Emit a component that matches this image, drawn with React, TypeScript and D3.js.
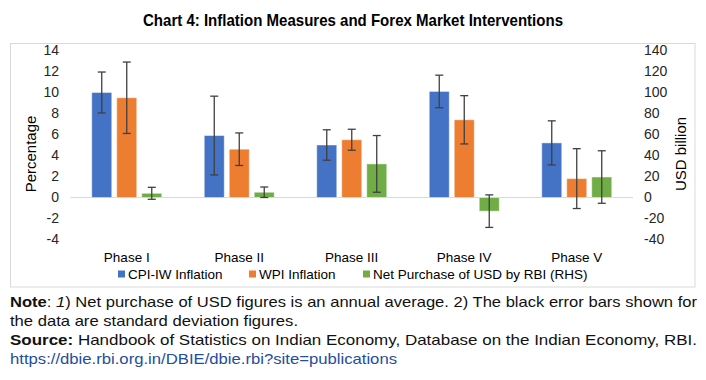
import React from "react";
import * as d3 from "d3";

const phases = ["Phase I", "Phase II", "Phase III", "Phase IV", "Phase V"];
const seriesNames = ["CPI-IW Inflation", "WPI Inflation", "Net Purchase of USD by RBI (RHS)"];
const cpiValues = [10.0, 5.9, 5.0, 10.1, 5.2];
const cpiSd = [1.95, 3.75, 1.45, 1.55, 2.1];
const wpiValues = [9.5, 4.6, 5.5, 7.4, 1.8];
const wpiSd = [3.4, 1.55, 1.0, 2.3, 2.85];
const usdValues = [4.0, 5.0, 32.0, -13.0, 19.5];
const usdSd = [5.7, 5.0, 27.0, 15.5, 25.0];
const leftTicks = [-4, -2, 0, 2, 4, 6, 8, 10, 12, 14];
const rightTicks = [-40, -20, 0, 20, 40, 60, 80, 100, 120, 140];
const colors = ["#4472C4", "#ED7D31", "#70AD47"];

const FONT = "'Liberation Sans', Arial, sans-serif";

export default function App() {
  const W = 706, H = 380;
  const plotL = 70.5, plotR = 633, plotT = 50.5, plotB = 239.5;
  const x0 = d3.scaleBand<string>().domain(phases).range([plotL, plotR]).paddingInner(0).paddingOuter(0);
  const groupW = 70;
  const x1 = d3.scaleBand<number>().domain([0, 1, 2]).range([0, groupW]).paddingInner(0.2).paddingOuter(0);
  const yL = d3.scaleLinear().domain([-4, 14]).range([plotB, plotT]);
  const yR = d3.scaleLinear().domain([-40, 140]).range([plotB, plotT]);

  const series = [
    { vals: cpiValues, sd: cpiSd, y: yL },
    { vals: wpiValues, sd: wpiSd, y: yL },
    { vals: usdValues, sd: usdSd, y: yR },
  ];

  const offset = (x0.bandwidth() - groupW) / 2;
  const capW = 8;

  return (
    <svg width={W} height={H} style={{ position: "absolute", left: 0, top: 0, background: "#fff" }} fontFamily={FONT}>
      <rect x={0} y={0} width={W} height={H} fill="#fff" />
      <text x={353} y={25.5} textAnchor="middle" fontWeight="bold" fontSize={16.5} fill="#000" textLength={420} lengthAdjust="spacingAndGlyphs">
        Chart 4: Inflation Measures and Forex Market Interventions
      </text>
      <rect x={10.5} y={43.5} width={684.5} height={243.5} fill="none" stroke="#d9d9d9" strokeWidth={1} />

      {/* baseline */}
      <line x1={plotL} x2={plotR} y1={yL(0)} y2={yL(0)} stroke="#d9d9d9" strokeWidth={1.2} />

      {/* left ticks */}
      {leftTicks.map((t) => (
        <text key={"l" + t} x={59} y={yL(t)} dy="0.35em" textAnchor="end" fontSize={14} fill="#262626">
          {t}
        </text>
      ))}
      {rightTicks.map((t) => (
        <text key={"r" + t} x={644} y={yR(t)} dy="0.35em" textAnchor="start" fontSize={14} fill="#262626">
          {t}
        </text>
      ))}
      <text transform={`translate(31,154) rotate(-90)`} textAnchor="middle" dy="0.35em" fontSize={15} fill="#000">
        Percentage
      </text>
      <text transform={`translate(681,154) rotate(-90)`} textAnchor="middle" dy="0.35em" fontSize={15} fill="#000">
        USD billion
      </text>

      {/* bars */}
      {series.map((s, si) =>
        phases.map((p, i) => {
          const v = s.vals[i];
          const bx = (x0(p) as number) + offset + (x1(si) as number);
          const y0 = s.y(0);
          const yv = s.y(v);
          return (
            <rect
              key={`b${si}-${i}`}
              x={bx}
              y={Math.min(y0, yv)}
              width={x1.bandwidth()}
              height={Math.abs(yv - y0)}
              fill={colors[si]}
              stroke="#ffffff"
              strokeOpacity={0.45}
              strokeWidth={1}
            />
          );
        })
      )}

      {/* error bars */}
      {series.map((s, si) =>
        phases.map((p, i) => {
          const v = s.vals[i];
          const cx = (x0(p) as number) + offset + (x1(si) as number) + x1.bandwidth() / 2;
          const yt = s.y(v + s.sd[i]);
          const yb = s.y(v - s.sd[i]);
          return (
            <g key={`e${si}-${i}`} stroke="#404040" strokeWidth={1.3}>
              <line x1={cx} x2={cx} y1={yt} y2={yb} />
              <line x1={cx - capW / 2} x2={cx + capW / 2} y1={yt} y2={yt} />
              <line x1={cx - capW / 2} x2={cx + capW / 2} y1={yb} y2={yb} />
            </g>
          );
        })
      )}

      {/* category labels */}
      {phases.map((p) => (
        <text key={"c" + p} x={(x0(p) as number) + x0.bandwidth() / 2} y={257} dy="0.35em" textAnchor="middle" fontSize={13.5} fill="#000">
          {p}
        </text>
      ))}

      {/* legend */}
      {seriesNames.map((n, i) => {
        const lx = [118, 249, 363][i];
        return (
          <g key={"lg" + i}>
            <rect x={lx} y={270.5} width={7} height={7} fill={colors[i]} />
            <text x={lx + 10} y={274} dy="0.35em" fontSize={13.5} fill="#000">
              {n}
            </text>
          </g>
        );
      })}

      {/* notes */}
      <text x={10} y={306.5} fontSize={14.5} fill="#111" textLength={687} lengthAdjust="spacingAndGlyphs">
        <tspan fontWeight="bold">Note</tspan>
        <tspan>: </tspan>
        <tspan fontStyle="italic">1</tspan>
        <tspan>) Net purchase of USD figures is an annual average. 2) The black error bars shown for</tspan>
      </text>
      <text x={10} y={325.5} fontSize={14.5} fill="#111" textLength={288} lengthAdjust="spacingAndGlyphs">
        the data are standard deviation figures.
      </text>
      <text x={10} y={344.5} fontSize={14.5} fill="#111" textLength={687} lengthAdjust="spacingAndGlyphs">
        <tspan fontWeight="bold">Source:</tspan>
        <tspan> Handbook of Statistics on Indian Economy, Database on the Indian Economy, RBI.</tspan>
      </text>
      <text x={10} y={363.5} fontSize={14.5} fill="#1f4e9c" textLength={387} lengthAdjust="spacingAndGlyphs">
        https://dbie.rbi.org.in/DBIE/dbie.rbi?site=publications
      </text>
    </svg>
  );
}
